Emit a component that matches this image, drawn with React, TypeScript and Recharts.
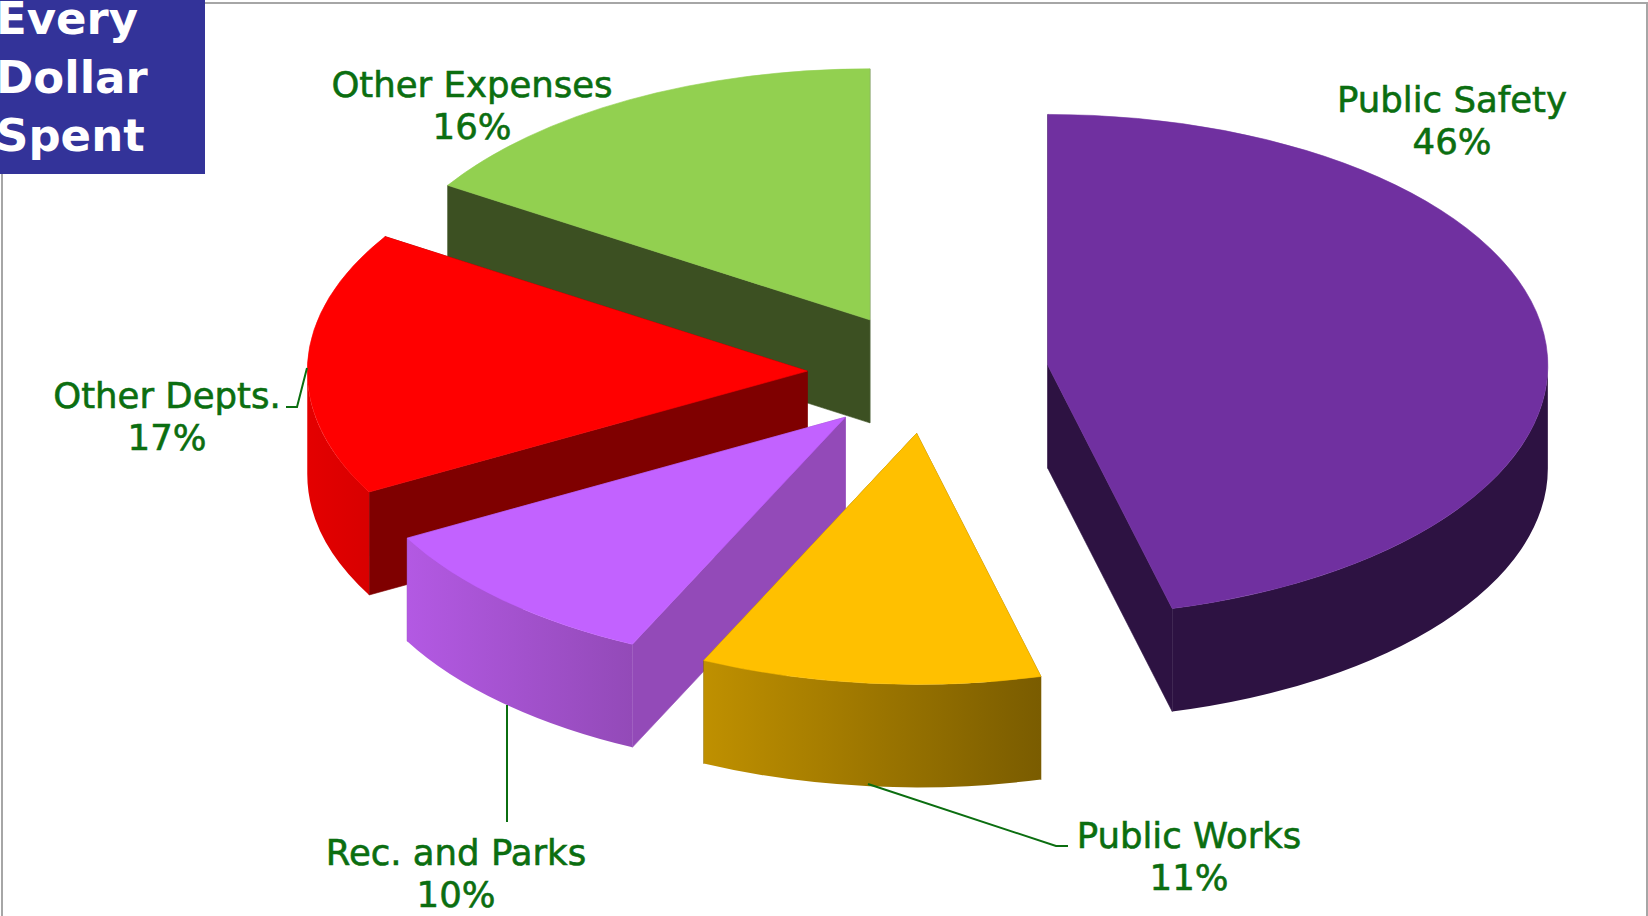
import { Pie, PieChart } from "recharts";

// Slices run counter-clockwise from 12 o'clock, so the back ones paint first
const categories = ["Other Expenses", "Other Depts.", "Rec. and Parks", "Public Works", "Public Safety"];
const shares = [16, 17, 10, 11, 46];

const topColors = ["#92d050", "#ff0000", "#c262ff", "#ffc000", "#7030a0"];
const wallColors = ["#3c5022", "#7f0000", "#934ab8", "#7f6000", "#2d1242"];
const rimFrom = ["#3c5022", "#e40000", "#b359e3", "#bf9000", "#2d1242"];
const rimTo = ["#3c5022", "#d80000", "#934ab8", "#7a5c00", "#2d1242"];

// label centre x, first baseline y, optional leader line
const labelLayout: { x: number; y: number; leader?: string }[] = [
  { x: 472, y: 97 },
  { x: 167, y: 408, leader: "286,407 297,407 307,368" },
  { x: 456, y: 865, leader: "507,705 507,822" },
  { x: 1189, y: 848, leader: "868,784 1056,846 1068,846" },
  { x: 1452, y: 112 },
];

const titleLines = ["Every", "Dollar", "Spent"];
const titleTops = [-7, 52, 110];

const rows = categories.map((name, i) => ({ name, value: shares[i] }));

const WIDTH = 1648;
const HEIGHT = 916;
const SQUASH = 0.502; // vertical tilt of the pie
const DEPTH = 103;
const EXPLODE = 0.2416;
const TEXT_GREEN = "#0b6e10";
const FONT = "'DejaVu Sans', sans-serif";

function Slice3D(props: any) {
  const { cx, cy, outerRadius: r, startAngle, endAngle, midAngle, index } = props;
  const rad = (a: number) => (a * Math.PI) / 180;
  const ry = r * SQUASH;
  const ox = cx + EXPLODE * r * Math.cos(rad(midAngle));
  const oy = cy - EXPLODE * ry * Math.sin(rad(midAngle));
  const at = (a: number, drop = 0) =>
    `${ox + r * Math.cos(rad(a))} ${oy - ry * Math.sin(rad(a)) + drop}`;

  const top =
    `M${ox} ${oy} L${at(startAngle)} ` +
    `A${r} ${ry} 0 ${endAngle - startAngle > 180 ? 1 : 0} 0 ${at(endAngle)} Z`;
  const wall = (a: number) =>
    `M${ox} ${oy} L${at(a)} L${at(a, DEPTH)} L${ox} ${oy + DEPTH} Z`;

  // the outer rim only shows on the front half of the ellipse
  const from = Math.max(startAngle, 180);
  const to = Math.min(endAngle, 360);
  const rim =
    to > from
      ? `M${at(from)} A${r} ${ry} 0 0 0 ${at(to)} L${at(to, DEPTH)} ` +
        `A${r} ${ry} 0 0 1 ${at(from, DEPTH)} Z`
      : null;
  const gradId = `rim-${index}`;

  return (
    <g>
      <defs>
        <linearGradient id={gradId} x1="0" y1="0" x2="1" y2="0">
          <stop offset="0%" stopColor={rimFrom[index]} />
          <stop offset="100%" stopColor={rimTo[index]} />
        </linearGradient>
      </defs>
      <path d={wall(startAngle)} fill={wallColors[index]} stroke={wallColors[index]} strokeWidth={0.6} />
      <path d={wall(endAngle)} fill={wallColors[index]} stroke={wallColors[index]} strokeWidth={0.6} />
      {rim && <path d={rim} fill={`url(#${gradId})`} />}
      <path d={top} fill={topColors[index]} stroke={topColors[index]} strokeWidth={0.6} />
    </g>
  );
}

function SliceLabel(props: any) {
  const { index, name, value } = props;
  const { x, y, leader } = labelLayout[index];
  const textProps = {
    x,
    textAnchor: "middle" as const,
    fill: TEXT_GREEN,
    stroke: TEXT_GREEN,
    strokeWidth: 0.6,
    fontFamily: FONT,
    fontSize: 35.5,
  };
  return (
    <g>
      {leader && <polyline points={leader} fill="none" stroke={TEXT_GREEN} strokeWidth={2} />}
      <text {...textProps} y={y}>{name}</text>
      <text {...textProps} y={y + 42}>{`${value}%`}</text>
    </g>
  );
}

export default function App() {
  return (
    <div
      style={{
        position: "absolute",
        left: 0,
        top: 0,
        width: WIDTH,
        height: HEIGHT,
        overflow: "hidden",
        background: "#fff",
      }}
    >
      {/* grey frame around the plot */}
      <div
        style={{
          position: "absolute",
          left: 1,
          top: 2,
          width: 1647,
          height: 930,
          border: "2px solid #a6a6a6",
          boxSizing: "border-box",
        }}
      />
      <PieChart
        width={WIDTH}
        height={HEIGHT}
        margin={{ top: 0, right: 0, bottom: 0, left: 0 }}
        style={{ position: "absolute", left: 0, top: 0 }}
      >
        <Pie
          data={rows}
          dataKey="value"
          nameKey="name"
          cx={928}
          cy={373}
          innerRadius={0}
          outerRadius={500}
          startAngle={90}
          endAngle={450}
          stroke="none"
          shape={Slice3D}
          label={SliceLabel}
          labelLine={false}
          isAnimationActive={false}
        />
      </PieChart>
      <div
        style={{
          position: "absolute",
          left: 0,
          top: 0,
          width: 205,
          height: 174,
          background: "#333399",
          overflow: "hidden",
        }}
      >
        {titleLines.map((line, i) => (
          <div
            key={line}
            style={{
              position: "absolute",
              left: -4,
              top: titleTops[i],
              color: "#fff",
              fontFamily: FONT,
              fontWeight: 700,
              fontSize: 45,
              lineHeight: "52px",
              whiteSpace: "nowrap",
            }}
          >
            {line}
          </div>
        ))}
      </div>
    </div>
  );
}
